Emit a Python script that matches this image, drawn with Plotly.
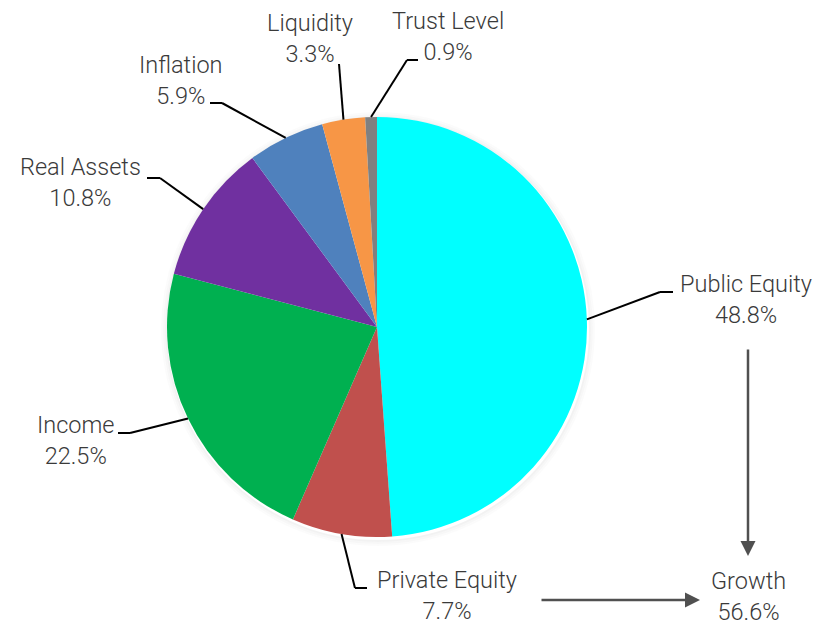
import math
import plotly.graph_objects as go

# ---- data ----
categories = ["Public Equity", "Private Equity", "Income", "Real Assets",
              "Inflation", "Liquidity", "Trust Level"]
values = [48.8, 7.7, 22.5, 10.8, 5.9, 3.3, 0.9]
colors = ["#00FFFF", "#C0504D", "#00B050", "#7030A0", "#4F81BD", "#F79646", "#808080"]
growth_label = "Growth"
growth_value = 56.6

# ---- layout constants (pixels) ----
W, H = 829, 627
CX, CY, R = 377, 327, 210

# label placement: (text center x, text center y, elbow x, elbow y, horizontal end x)
label_pos = {
    "Public Equity": (746, 299, 660, 292, 673),
    "Private Equity": (447, 595, 355, 588, 367),
    "Income": (75, 440, 130, 433, 118),
    "Real Assets": (80, 182, 160, 178, 147),
    "Inflation": (181, 80, 222, 103, 210),
    "Liquidity": (310, 38, 339, 64, 339),
    "Trust Level": (448, 36, 407, 60, 418),
}

FONT = dict(family="Roboto", size=23.5, color="#3a3a3a", weight=300)

fig = go.Figure()

# subtle shadow rings
for d, a in [(2, 0.05), (4, 0.03), (6, 0.015)]:
    fig.add_shape(type="circle", xref="x", yref="y",
                  x0=CX - R - d + 1, x1=CX + R + d + 1, y0=CY - R - d + 2, y1=CY + R + d + 2,
                  line=dict(color=f"rgba(0,0,0,{a})", width=2), fillcolor="rgba(0,0,0,0)",
                  layer="below")

fig.add_trace(go.Pie(
    labels=categories, values=values, sort=False, direction="clockwise", rotation=0,
    marker=dict(colors=colors, line=dict(width=0)),
    textinfo="none", hoverinfo="label+percent", showlegend=False,
    domain=dict(x=[(CX - R) / W, (CX + R) / W], y=[(H - CY - R) / H, (H - CY + R) / H]),
))

total = sum(values)
cum = 0.0
for name, v in zip(categories, values):
    mid = (cum + v / 2) / total * 2 * math.pi
    cum += v
    px = CX + R * math.sin(mid)
    py = CY - R * math.cos(mid)
    tx, ty, ex, ey, hx = label_pos[name]
    fig.add_shape(type="line", xref="x", yref="y", x0=px, y0=py, x1=ex, y1=ey,
                  line=dict(color="black", width=2))
    if hx != ex:
        fig.add_shape(type="line", xref="x", yref="y", x0=ex, y0=ey, x1=hx, y1=ey,
                      line=dict(color="black", width=2))
    fig.add_annotation(x=tx, y=ty, xref="x", yref="y", text=f"{name}<br>{v:.1f}%",
                       showarrow=False, font=FONT, align="center")

# growth label
fig.add_annotation(x=748, y=596, xref="x", yref="y",
                   text=f"{growth_label}<br>{growth_value:.1f}%",
                   showarrow=False, font=FONT, align="center")

# arrows
arrow_style = dict(showarrow=True, arrowhead=2, arrowsize=1.2, arrowwidth=2.5,
                   arrowcolor="#505050", text="", xref="x", yref="y", axref="x", ayref="y")
fig.add_annotation(x=748, y=556, ax=748, ay=348, **arrow_style)
fig.add_annotation(x=700, y=600, ax=540, ay=600, **arrow_style)

fig.update_layout(
    width=W, height=H, margin=dict(l=0, r=0, t=0, b=0),
    paper_bgcolor="white", plot_bgcolor="rgba(0,0,0,0)",
    xaxis=dict(range=[0, W], visible=False, domain=[0, 1], fixedrange=True),
    yaxis=dict(range=[H, 0], visible=False, domain=[0, 1], fixedrange=True),
)

fig.write_html("out.html")
